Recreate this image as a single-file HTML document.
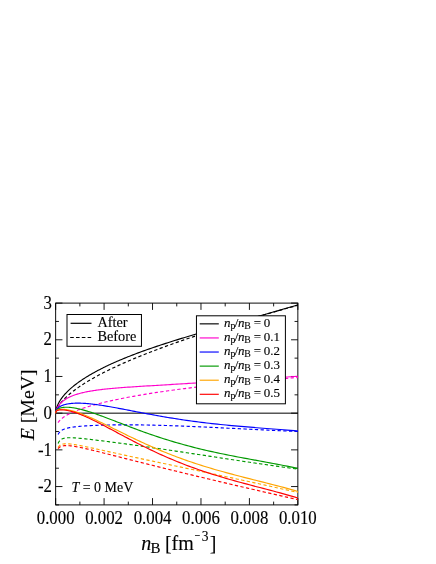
<!DOCTYPE html>
<html><head><meta charset="utf-8"><title>E vs nB</title>
<style>html,body{margin:0;padding:0;background:#fff;}svg{display:block;will-change:transform;}text{font-family:"Liberation Serif",serif;fill:#000;stroke:#000;stroke-width:0.12px;}</style></head><body>
<svg width="436" height="564" viewBox="0 0 436 564">
<rect x="0" y="0" width="436" height="564" fill="#fff"/>
<defs><clipPath id="c"><rect x="55.15" y="302.60" width="243.20" height="202.80"/></clipPath></defs>
<path d="M55.65 504.90v-6.80M55.65 303.10v6.80M79.87 504.90v-3.30M79.87 303.10v3.30M104.09 504.90v-6.80M104.09 303.10v6.80M128.31 504.90v-3.30M128.31 303.10v3.30M152.53 504.90v-6.80M152.53 303.10v6.80M176.75 504.90v-3.30M176.75 303.10v3.30M200.97 504.90v-6.80M200.97 303.10v6.80M225.19 504.90v-3.30M225.19 303.10v3.30M249.41 504.90v-6.80M249.41 303.10v6.80M273.63 504.90v-3.30M273.63 303.10v3.30M297.85 504.90v-6.80M297.85 303.10v6.80M55.65 303.10h6.80M297.85 303.10h-6.80M55.65 321.45h3.30M297.85 321.45h-3.30M55.65 339.79h6.80M297.85 339.79h-6.80M55.65 358.14h3.30M297.85 358.14h-3.30M55.65 376.48h6.80M297.85 376.48h-6.80M55.65 394.83h3.30M297.85 394.83h-3.30M55.65 413.17h6.80M297.85 413.17h-6.80M55.65 431.52h3.30M297.85 431.52h-3.30M55.65 449.86h6.80M297.85 449.86h-6.80M55.65 468.21h3.30M297.85 468.21h-3.30M55.65 486.55h6.80M297.85 486.55h-6.80M55.65 504.90h3.30M297.85 504.90h-3.30" stroke="#000" stroke-width="0.9" fill="none"/>
<rect x="55.65" y="303.10" width="242.20" height="201.80" fill="none" stroke="#000" stroke-width="0.95"/>
<line x1="55.65" y1="413.17" x2="297.85" y2="413.17" stroke="#000" stroke-width="1"/>
<g clip-path="url(#c)" fill="none" stroke-width="1.15" stroke-linejoin="round">
<path d="M55.65 413.17 L55.65 413.17 L55.65 413.15 L55.65 413.11 L55.65 413.07 L55.65 413.01 L55.66 412.94 L55.66 412.85 L55.67 412.76 L55.67 412.65 L55.68 412.54 L55.69 412.41 L55.70 412.27 L55.72 412.13 L55.73 411.97 L55.75 411.81 L55.78 411.63 L55.80 411.45 L55.83 411.25 L55.86 411.05 L55.90 410.84 L55.93 410.63 L55.98 410.40 L56.02 410.17 L56.07 409.93 L56.13 409.68 L56.19 409.42 L56.25 409.16 L56.32 408.89 L56.40 408.62 L56.48 408.33 L56.57 408.05 L56.66 407.75 L56.75 407.45 L56.86 407.14 L56.97 406.83 L57.08 406.51 L57.21 406.19 L57.34 405.86 L57.47 405.52 L57.62 405.18 L57.77 404.83 L57.93 404.48 L58.09 404.13 L58.27 403.76 L58.45 403.40 L58.64 403.03 L58.84 402.65 L59.05 402.27 L59.27 401.88 L59.49 401.49 L59.73 401.10 L59.97 400.70 L60.23 400.30 L60.49 399.89 L60.76 399.47 L61.05 399.06 L61.34 398.64 L61.65 398.21 L61.96 397.78 L62.29 397.35 L62.63 396.91 L62.97 396.47 L63.33 396.02 L63.71 395.57 L64.09 395.12 L64.49 394.66 L64.89 394.20 L65.31 393.74 L65.75 393.27 L66.19 392.80 L66.65 392.32 L67.12 391.84 L67.61 391.36 L68.10 390.87 L68.62 390.38 L69.14 389.89 L69.68 389.39 L70.23 388.89 L70.80 388.38 L71.39 387.87 L71.98 387.36 L72.60 386.85 L73.22 386.33 L73.87 385.81 L74.52 385.28 L75.20 384.75 L75.89 384.22 L76.59 383.69 L77.32 383.15 L78.05 382.61 L78.81 382.07 L79.58 381.52 L80.37 380.97 L81.18 380.42 L82.00 379.86 L82.84 379.30 L83.70 378.74 L84.58 378.18 L85.47 377.61 L86.38 377.04 L87.31 376.47 L88.26 375.89 L89.23 375.31 L90.22 374.73 L91.23 374.15 L92.25 373.56 L93.30 372.97 L94.37 372.38 L95.45 371.79 L96.56 371.19 L97.68 370.59 L98.83 369.99 L100.00 369.39 L101.18 368.78 L102.39 368.17 L103.62 367.56 L104.87 366.95 L106.15 366.33 L107.44 365.71 L108.76 365.09 L110.10 364.47 L111.46 363.85 L112.84 363.22 L114.25 362.59 L115.68 361.96 L117.13 361.33 L118.60 360.69 L120.10 360.05 L121.63 359.41 L123.17 358.77 L124.74 358.13 L126.34 357.48 L127.96 356.83 L129.60 356.18 L131.27 355.53 L132.96 354.88 L134.68 354.22 L136.42 353.56 L138.19 352.90 L139.98 352.24 L141.80 351.57 L143.65 350.90 L145.52 350.23 L147.42 349.56 L149.35 348.88 L151.30 348.20 L153.28 347.52 L155.28 346.84 L157.32 346.16 L159.38 345.47 L161.46 344.78 L163.58 344.08 L165.73 343.39 L167.90 342.69 L170.10 341.98 L172.33 341.28 L174.59 340.57 L176.87 339.85 L179.19 339.13 L181.54 338.41 L183.91 337.69 L186.32 336.96 L188.75 336.23 L191.21 335.49 L193.71 334.75 L196.24 334.00 L198.79 333.25 L201.38 332.49 L204.00 331.73 L206.64 330.96 L209.33 330.19 L212.04 329.41 L214.78 328.62 L217.56 327.83 L220.36 327.03 L223.20 326.22 L226.08 325.41 L228.98 324.58 L231.92 323.75 L234.89 322.92 L237.89 322.07 L240.93 321.21 L244.00 320.35 L247.11 319.47 L250.24 318.59 L253.42 317.69 L256.62 316.78 L259.87 315.86 L263.14 314.93 L266.45 313.99 L269.80 313.03 L273.18 312.06 L276.60 311.08 L280.05 310.08 L283.54 309.07 L287.06 308.04 L290.62 306.99 L294.22 305.93 L297.85 304.85" stroke="#000000"/>
<path d="M55.65 413.17 L55.65 413.17 L55.65 413.16 L55.65 413.15 L55.65 413.12 L55.65 413.09 L55.66 413.05 L55.66 413.01 L55.67 412.96 L55.67 412.89 L55.68 412.83 L55.69 412.75 L55.70 412.67 L55.72 412.58 L55.73 412.48 L55.75 412.38 L55.78 412.27 L55.80 412.15 L55.83 412.02 L55.86 411.89 L55.90 411.75 L55.93 411.61 L55.98 411.46 L56.02 411.30 L56.07 411.13 L56.13 410.96 L56.19 410.78 L56.25 410.60 L56.32 410.41 L56.40 410.21 L56.48 410.01 L56.57 409.80 L56.66 409.58 L56.75 409.36 L56.86 409.13 L56.97 408.90 L57.08 408.66 L57.21 408.41 L57.34 408.16 L57.47 407.90 L57.62 407.63 L57.77 407.36 L57.93 407.09 L58.09 406.80 L58.27 406.52 L58.45 406.22 L58.64 405.92 L58.84 405.62 L59.05 405.31 L59.27 404.99 L59.49 404.67 L59.73 404.34 L59.97 404.01 L60.23 403.67 L60.49 403.33 L60.76 402.98 L61.05 402.63 L61.34 402.27 L61.65 401.90 L61.96 401.53 L62.29 401.16 L62.63 400.78 L62.97 400.39 L63.33 400.00 L63.71 399.61 L64.09 399.21 L64.49 398.80 L64.89 398.39 L65.31 397.97 L65.75 397.55 L66.19 397.13 L66.65 396.70 L67.12 396.26 L67.61 395.82 L68.10 395.38 L68.62 394.93 L69.14 394.47 L69.68 394.01 L70.23 393.55 L70.80 393.08 L71.39 392.61 L71.98 392.13 L72.60 391.65 L73.22 391.16 L73.87 390.67 L74.52 390.17 L75.20 389.67 L75.89 389.17 L76.59 388.66 L77.32 388.14 L78.05 387.62 L78.81 387.10 L79.58 386.57 L80.37 386.04 L81.18 385.50 L82.00 384.96 L82.84 384.42 L83.70 383.87 L84.58 383.31 L85.47 382.75 L86.38 382.19 L87.31 381.62 L88.26 381.05 L89.23 380.48 L90.22 379.90 L91.23 379.31 L92.25 378.72 L93.30 378.13 L94.37 377.53 L95.45 376.93 L96.56 376.33 L97.68 375.72 L98.83 375.10 L100.00 374.48 L101.18 373.86 L102.39 373.23 L103.62 372.60 L104.87 371.97 L106.15 371.33 L107.44 370.69 L108.76 370.04 L110.10 369.39 L111.46 368.73 L112.84 368.07 L114.25 367.41 L115.68 366.74 L117.13 366.07 L118.60 365.39 L120.10 364.71 L121.63 364.02 L123.17 363.34 L124.74 362.64 L126.34 361.95 L127.96 361.24 L129.60 360.54 L131.27 359.83 L132.96 359.12 L134.68 358.40 L136.42 357.68 L138.19 356.95 L139.98 356.22 L141.80 355.48 L143.65 354.74 L145.52 354.00 L147.42 353.25 L149.35 352.50 L151.30 351.75 L153.28 350.99 L155.28 350.22 L157.32 349.46 L159.38 348.68 L161.46 347.91 L163.58 347.12 L165.73 346.34 L167.90 345.55 L170.10 344.76 L172.33 343.96 L174.59 343.16 L176.87 342.35 L179.19 341.54 L181.54 340.72 L183.91 339.90 L186.32 339.08 L188.75 338.25 L191.21 337.42 L193.71 336.58 L196.24 335.74 L198.79 334.89 L201.38 334.04 L204.00 333.18 L206.64 332.32 L209.33 331.46 L212.04 330.59 L214.78 329.71 L217.56 328.84 L220.36 327.95 L223.20 327.07 L226.08 326.17 L228.98 325.28 L231.92 324.38 L234.89 323.47 L237.89 322.56 L240.93 321.64 L244.00 320.72 L247.11 319.80 L250.24 318.87 L253.42 317.93 L256.62 316.99 L259.87 316.04 L263.14 315.09 L266.45 314.14 L269.80 313.18 L273.18 312.22 L276.60 311.24 L280.05 310.27 L283.54 309.29 L287.06 308.30 L290.62 307.31 L294.22 306.32 L297.85 305.32" stroke="#000000" stroke-dasharray="3.3 2.4"/>
<path d="M55.65 413.17 L55.65 413.17 L55.65 413.16 L55.65 413.13 L55.65 413.11 L55.65 413.07 L55.66 413.02 L55.66 412.97 L55.67 412.91 L55.67 412.83 L55.68 412.76 L55.69 412.67 L55.70 412.57 L55.72 412.47 L55.73 412.36 L55.75 412.24 L55.78 412.12 L55.80 411.99 L55.83 411.85 L55.86 411.70 L55.90 411.55 L55.93 411.39 L55.98 411.22 L56.02 411.04 L56.07 410.86 L56.13 410.68 L56.19 410.49 L56.25 410.29 L56.32 410.08 L56.40 409.87 L56.48 409.66 L56.57 409.44 L56.66 409.22 L56.75 408.99 L56.86 408.75 L56.97 408.51 L57.08 408.27 L57.21 408.02 L57.34 407.77 L57.47 407.52 L57.62 407.26 L57.77 407.00 L57.93 406.74 L58.09 406.47 L58.27 406.20 L58.45 405.93 L58.64 405.66 L58.84 405.38 L59.05 405.11 L59.27 404.83 L59.49 404.55 L59.73 404.26 L59.97 403.98 L60.23 403.70 L60.49 403.41 L60.76 403.13 L61.05 402.84 L61.34 402.55 L61.65 402.27 L61.96 401.98 L62.29 401.70 L62.63 401.41 L62.97 401.12 L63.33 400.84 L63.71 400.56 L64.09 400.27 L64.49 399.99 L64.89 399.71 L65.31 399.44 L65.75 399.16 L66.19 398.88 L66.65 398.61 L67.12 398.34 L67.61 398.07 L68.10 397.80 L68.62 397.54 L69.14 397.28 L69.68 397.02 L70.23 396.76 L70.80 396.50 L71.39 396.25 L71.98 396.00 L72.60 395.76 L73.22 395.51 L73.87 395.27 L74.52 395.03 L75.20 394.80 L75.89 394.57 L76.59 394.34 L77.32 394.12 L78.05 393.90 L78.81 393.68 L79.58 393.46 L80.37 393.25 L81.18 393.04 L82.00 392.84 L82.84 392.64 L83.70 392.44 L84.58 392.25 L85.47 392.05 L86.38 391.87 L87.31 391.68 L88.26 391.50 L89.23 391.32 L90.22 391.15 L91.23 390.98 L92.25 390.81 L93.30 390.64 L94.37 390.48 L95.45 390.32 L96.56 390.17 L97.68 390.01 L98.83 389.86 L100.00 389.71 L101.18 389.57 L102.39 389.43 L103.62 389.29 L104.87 389.15 L106.15 389.01 L107.44 388.88 L108.76 388.75 L110.10 388.62 L111.46 388.49 L112.84 388.37 L114.25 388.24 L115.68 388.12 L117.13 388.00 L118.60 387.88 L120.10 387.76 L121.63 387.64 L123.17 387.53 L124.74 387.41 L126.34 387.30 L127.96 387.18 L129.60 387.07 L131.27 386.96 L132.96 386.85 L134.68 386.73 L136.42 386.62 L138.19 386.51 L139.98 386.39 L141.80 386.28 L143.65 386.17 L145.52 386.05 L147.42 385.94 L149.35 385.82 L151.30 385.70 L153.28 385.58 L155.28 385.46 L157.32 385.34 L159.38 385.22 L161.46 385.09 L163.58 384.97 L165.73 384.84 L167.90 384.71 L170.10 384.58 L172.33 384.44 L174.59 384.30 L176.87 384.17 L179.19 384.02 L181.54 383.88 L183.91 383.73 L186.32 383.58 L188.75 383.43 L191.21 383.28 L193.71 383.12 L196.24 382.96 L198.79 382.79 L201.38 382.63 L204.00 382.46 L206.64 382.29 L209.33 382.11 L212.04 381.93 L214.78 381.75 L217.56 381.57 L220.36 381.38 L223.20 381.19 L226.08 381.00 L228.98 380.80 L231.92 380.60 L234.89 380.40 L237.89 380.20 L240.93 379.99 L244.00 379.79 L247.11 379.58 L250.24 379.36 L253.42 379.15 L256.62 378.94 L259.87 378.72 L263.14 378.50 L266.45 378.28 L269.80 378.06 L273.18 377.84 L276.60 377.62 L280.05 377.40 L283.54 377.18 L287.06 376.96 L290.62 376.75 L294.22 376.53 L297.85 376.32" stroke="#ff00cc"/>
<path d="M58.07 422.60 L58.21 422.40 L58.35 422.20 L58.49 422.00 L58.64 421.79 L58.80 421.59 L58.96 421.39 L59.13 421.19 L59.30 420.99 L59.48 420.78 L59.66 420.58 L59.85 420.38 L60.04 420.18 L60.24 419.97 L60.45 419.77 L60.66 419.56 L60.88 419.36 L61.11 419.16 L61.34 418.95 L61.58 418.75 L61.82 418.54 L62.07 418.34 L62.33 418.13 L62.60 417.92 L62.87 417.72 L63.15 417.51 L63.43 417.30 L63.73 417.10 L64.03 416.89 L64.34 416.68 L64.65 416.47 L64.97 416.26 L65.30 416.05 L65.64 415.84 L65.99 415.63 L66.34 415.42 L66.70 415.21 L67.07 415.00 L67.45 414.79 L67.84 414.58 L68.23 414.37 L68.64 414.15 L69.05 413.94 L69.47 413.73 L69.90 413.51 L70.33 413.30 L70.78 413.08 L71.24 412.87 L71.70 412.65 L72.18 412.44 L72.66 412.22 L73.15 412.00 L73.65 411.79 L74.16 411.57 L74.68 411.35 L75.21 411.13 L75.75 410.91 L76.30 410.70 L76.86 410.48 L77.43 410.26 L78.02 410.03 L78.61 409.81 L79.21 409.59 L79.82 409.37 L80.44 409.15 L81.07 408.92 L81.71 408.70 L82.37 408.48 L83.03 408.25 L83.71 408.03 L84.39 407.80 L85.09 407.58 L85.80 407.35 L86.52 407.13 L87.25 406.90 L87.99 406.67 L88.75 406.45 L89.51 406.22 L90.29 405.99 L91.08 405.76 L91.88 405.53 L92.69 405.30 L93.52 405.07 L94.36 404.84 L95.21 404.61 L96.07 404.38 L96.94 404.15 L97.83 403.92 L98.73 403.68 L99.64 403.45 L100.57 403.22 L101.51 402.98 L102.46 402.75 L103.42 402.52 L104.40 402.28 L105.39 402.05 L106.39 401.81 L107.41 401.58 L108.44 401.34 L109.48 401.10 L110.54 400.87 L111.61 400.63 L112.70 400.39 L113.80 400.15 L114.91 399.92 L116.04 399.68 L117.18 399.44 L118.34 399.20 L119.51 398.96 L120.69 398.72 L121.89 398.48 L123.11 398.24 L124.34 398.00 L125.58 397.76 L126.84 397.52 L128.11 397.28 L129.40 397.04 L130.71 396.80 L132.03 396.56 L133.36 396.32 L134.71 396.08 L136.08 395.83 L137.46 395.59 L138.86 395.35 L140.27 395.11 L141.70 394.87 L143.14 394.62 L144.60 394.38 L146.08 394.14 L147.58 393.90 L149.09 393.65 L150.61 393.41 L152.15 393.17 L153.71 392.92 L155.29 392.68 L156.88 392.44 L158.49 392.19 L160.12 391.95 L161.76 391.71 L163.42 391.47 L165.10 391.22 L166.80 390.98 L168.51 390.74 L170.24 390.49 L171.99 390.25 L173.76 390.01 L175.54 389.77 L177.34 389.52 L179.16 389.28 L181.00 389.04 L182.85 388.80 L184.73 388.56 L186.62 388.31 L188.53 388.07 L190.46 387.83 L192.41 387.59 L194.37 387.35 L196.36 387.11 L198.36 386.87 L200.39 386.63 L202.43 386.39 L204.49 386.15 L206.57 385.91 L208.67 385.67 L210.79 385.44 L212.93 385.20 L215.08 384.96 L217.26 384.72 L219.46 384.49 L221.68 384.25 L223.91 384.02 L226.17 383.78 L228.45 383.55 L230.74 383.31 L233.06 383.08 L235.40 382.85 L237.76 382.61 L240.14 382.38 L242.54 382.15 L244.96 381.92 L247.40 381.69 L249.86 381.46 L252.34 381.23 L254.85 381.01 L257.37 380.78 L259.92 380.55 L262.49 380.33 L265.08 380.10 L267.69 379.88 L270.32 379.65 L272.97 379.43 L275.65 379.21 L278.35 378.99 L281.07 378.77 L283.81 378.55 L286.57 378.33 L289.36 378.12 L292.17 377.90 L295.00 377.69 L297.85 377.47" stroke="#ff00cc" stroke-dasharray="3.3 2.4"/>
<path d="M55.65 413.17 L55.65 413.17 L55.65 413.15 L55.65 413.12 L55.65 413.07 L55.65 413.02 L55.66 412.96 L55.66 412.89 L55.67 412.81 L55.67 412.72 L55.68 412.63 L55.69 412.53 L55.70 412.42 L55.72 412.31 L55.73 412.19 L55.75 412.07 L55.78 411.95 L55.80 411.82 L55.83 411.69 L55.86 411.55 L55.90 411.41 L55.93 411.27 L55.98 411.13 L56.02 410.98 L56.07 410.84 L56.13 410.69 L56.19 410.54 L56.25 410.39 L56.32 410.23 L56.40 410.08 L56.48 409.92 L56.57 409.77 L56.66 409.61 L56.75 409.46 L56.86 409.30 L56.97 409.14 L57.08 408.99 L57.21 408.83 L57.34 408.67 L57.47 408.51 L57.62 408.36 L57.77 408.20 L57.93 408.05 L58.09 407.89 L58.27 407.74 L58.45 407.58 L58.64 407.43 L58.84 407.28 L59.05 407.13 L59.27 406.98 L59.49 406.83 L59.73 406.68 L59.97 406.53 L60.23 406.39 L60.49 406.24 L60.76 406.10 L61.05 405.96 L61.34 405.82 L61.65 405.69 L61.96 405.55 L62.29 405.42 L62.63 405.29 L62.97 405.16 L63.33 405.04 L63.71 404.92 L64.09 404.80 L64.49 404.68 L64.89 404.57 L65.31 404.46 L65.75 404.35 L66.19 404.25 L66.65 404.15 L67.12 404.05 L67.61 403.96 L68.10 403.87 L68.62 403.79 L69.14 403.71 L69.68 403.63 L70.23 403.56 L70.80 403.50 L71.39 403.44 L71.98 403.38 L72.60 403.33 L73.22 403.29 L73.87 403.25 L74.52 403.22 L75.20 403.19 L75.89 403.17 L76.59 403.16 L77.32 403.15 L78.05 403.15 L78.81 403.15 L79.58 403.16 L80.37 403.18 L81.18 403.20 L82.00 403.24 L82.84 403.28 L83.70 403.32 L84.58 403.38 L85.47 403.44 L86.38 403.51 L87.31 403.58 L88.26 403.67 L89.23 403.76 L90.22 403.86 L91.23 403.97 L92.25 404.08 L93.30 404.21 L94.37 404.34 L95.45 404.48 L96.56 404.63 L97.68 404.78 L98.83 404.95 L100.00 405.12 L101.18 405.30 L102.39 405.48 L103.62 405.68 L104.87 405.88 L106.15 406.09 L107.44 406.31 L108.76 406.54 L110.10 406.77 L111.46 407.01 L112.84 407.26 L114.25 407.52 L115.68 407.78 L117.13 408.05 L118.60 408.33 L120.10 408.61 L121.63 408.90 L123.17 409.19 L124.74 409.49 L126.34 409.80 L127.96 410.11 L129.60 410.43 L131.27 410.75 L132.96 411.08 L134.68 411.41 L136.42 411.75 L138.19 412.09 L139.98 412.43 L141.80 412.78 L143.65 413.13 L145.52 413.48 L147.42 413.84 L149.35 414.19 L151.30 414.55 L153.28 414.92 L155.28 415.28 L157.32 415.64 L159.38 416.01 L161.46 416.37 L163.58 416.73 L165.73 417.10 L167.90 417.46 L170.10 417.82 L172.33 418.19 L174.59 418.54 L176.87 418.90 L179.19 419.26 L181.54 419.61 L183.91 419.96 L186.32 420.31 L188.75 420.65 L191.21 421.00 L193.71 421.33 L196.24 421.67 L198.79 422.00 L201.38 422.32 L204.00 422.64 L206.64 422.96 L209.33 423.27 L212.04 423.58 L214.78 423.88 L217.56 424.18 L220.36 424.47 L223.20 424.76 L226.08 425.05 L228.98 425.33 L231.92 425.60 L234.89 425.87 L237.89 426.14 L240.93 426.41 L244.00 426.67 L247.11 426.93 L250.24 427.19 L253.42 427.44 L256.62 427.70 L259.87 427.95 L263.14 428.20 L266.45 428.46 L269.80 428.72 L273.18 428.98 L276.60 429.24 L280.05 429.51 L283.54 429.78 L287.06 430.07 L290.62 430.36 L294.22 430.66 L297.85 430.97" stroke="#0000ff"/>
<path d="M58.07 434.57 L58.21 434.29 L58.35 434.01 L58.49 433.74 L58.64 433.49 L58.80 433.23 L58.96 432.99 L59.13 432.76 L59.30 432.53 L59.48 432.31 L59.66 432.09 L59.85 431.89 L60.04 431.68 L60.24 431.49 L60.45 431.30 L60.66 431.12 L60.88 430.94 L61.11 430.77 L61.34 430.60 L61.58 430.44 L61.82 430.28 L62.07 430.13 L62.33 429.98 L62.60 429.84 L62.87 429.70 L63.15 429.56 L63.43 429.43 L63.73 429.30 L64.03 429.18 L64.34 429.06 L64.65 428.94 L64.97 428.83 L65.30 428.72 L65.64 428.61 L65.99 428.50 L66.34 428.40 L66.70 428.30 L67.07 428.21 L67.45 428.11 L67.84 428.02 L68.23 427.93 L68.64 427.84 L69.05 427.76 L69.47 427.67 L69.90 427.59 L70.33 427.51 L70.78 427.44 L71.24 427.36 L71.70 427.29 L72.18 427.21 L72.66 427.14 L73.15 427.07 L73.65 427.01 L74.16 426.94 L74.68 426.88 L75.21 426.81 L75.75 426.75 L76.30 426.69 L76.86 426.63 L77.43 426.57 L78.02 426.51 L78.61 426.45 L79.21 426.40 L79.82 426.34 L80.44 426.29 L81.07 426.24 L81.71 426.18 L82.37 426.13 L83.03 426.08 L83.71 426.03 L84.39 425.98 L85.09 425.94 L85.80 425.89 L86.52 425.84 L87.25 425.80 L87.99 425.75 L88.75 425.71 L89.51 425.67 L90.29 425.63 L91.08 425.59 L91.88 425.55 L92.69 425.51 L93.52 425.47 L94.36 425.43 L95.21 425.40 L96.07 425.36 L96.94 425.33 L97.83 425.29 L98.73 425.26 L99.64 425.23 L100.57 425.20 L101.51 425.17 L102.46 425.14 L103.42 425.11 L104.40 425.09 L105.39 425.06 L106.39 425.04 L107.41 425.01 L108.44 424.99 L109.48 424.97 L110.54 424.95 L111.61 424.93 L112.70 424.92 L113.80 424.90 L114.91 424.89 L116.04 424.87 L117.18 424.86 L118.34 424.85 L119.51 424.84 L120.69 424.84 L121.89 424.83 L123.11 424.83 L124.34 424.82 L125.58 424.82 L126.84 424.82 L128.11 424.83 L129.40 424.83 L130.71 424.84 L132.03 424.84 L133.36 424.85 L134.71 424.86 L136.08 424.88 L137.46 424.89 L138.86 424.91 L140.27 424.92 L141.70 424.94 L143.14 424.97 L144.60 424.99 L146.08 425.02 L147.58 425.04 L149.09 425.07 L150.61 425.11 L152.15 425.14 L153.71 425.18 L155.29 425.21 L156.88 425.25 L158.49 425.30 L160.12 425.34 L161.76 425.39 L163.42 425.44 L165.10 425.49 L166.80 425.54 L168.51 425.60 L170.24 425.65 L171.99 425.71 L173.76 425.77 L175.54 425.84 L177.34 425.90 L179.16 425.97 L181.00 426.04 L182.85 426.11 L184.73 426.19 L186.62 426.26 L188.53 426.34 L190.46 426.42 L192.41 426.51 L194.37 426.59 L196.36 426.68 L198.36 426.77 L200.39 426.86 L202.43 426.95 L204.49 427.04 L206.57 427.14 L208.67 427.24 L210.79 427.34 L212.93 427.44 L215.08 427.54 L217.26 427.65 L219.46 427.76 L221.68 427.86 L223.91 427.97 L226.17 428.08 L228.45 428.20 L230.74 428.31 L233.06 428.43 L235.40 428.54 L237.76 428.66 L240.14 428.78 L242.54 428.90 L244.96 429.02 L247.40 429.14 L249.86 429.26 L252.34 429.38 L254.85 429.50 L257.37 429.62 L259.92 429.75 L262.49 429.87 L265.08 429.99 L267.69 430.12 L270.32 430.24 L272.97 430.36 L275.65 430.48 L278.35 430.60 L281.07 430.72 L283.81 430.84 L286.57 430.96 L289.36 431.08 L292.17 431.20 L295.00 431.31 L297.85 431.42" stroke="#0000ff" stroke-dasharray="3.3 2.4"/>
<path d="M55.65 413.17 L55.65 413.17 L55.65 413.15 L55.65 413.12 L55.65 413.08 L55.65 413.03 L55.66 412.97 L55.66 412.91 L55.67 412.84 L55.67 412.76 L55.68 412.68 L55.69 412.59 L55.70 412.49 L55.72 412.40 L55.73 412.29 L55.75 412.19 L55.78 412.08 L55.80 411.97 L55.83 411.86 L55.86 411.74 L55.90 411.63 L55.93 411.51 L55.98 411.39 L56.02 411.27 L56.07 411.15 L56.13 411.03 L56.19 410.91 L56.25 410.79 L56.32 410.67 L56.40 410.55 L56.48 410.43 L56.57 410.31 L56.66 410.19 L56.75 410.07 L56.86 409.95 L56.97 409.84 L57.08 409.72 L57.21 409.60 L57.34 409.49 L57.47 409.38 L57.62 409.27 L57.77 409.16 L57.93 409.05 L58.09 408.95 L58.27 408.84 L58.45 408.74 L58.64 408.64 L58.84 408.54 L59.05 408.45 L59.27 408.35 L59.49 408.26 L59.73 408.17 L59.97 408.09 L60.23 408.01 L60.49 407.93 L60.76 407.85 L61.05 407.78 L61.34 407.71 L61.65 407.65 L61.96 407.59 L62.29 407.53 L62.63 407.48 L62.97 407.43 L63.33 407.38 L63.71 407.34 L64.09 407.31 L64.49 407.28 L64.89 407.26 L65.31 407.24 L65.75 407.23 L66.19 407.22 L66.65 407.22 L67.12 407.23 L67.61 407.24 L68.10 407.26 L68.62 407.29 L69.14 407.32 L69.68 407.37 L70.23 407.42 L70.80 407.47 L71.39 407.54 L71.98 407.61 L72.60 407.70 L73.22 407.79 L73.87 407.89 L74.52 408.00 L75.20 408.12 L75.89 408.25 L76.59 408.39 L77.32 408.54 L78.05 408.69 L78.81 408.86 L79.58 409.04 L80.37 409.23 L81.18 409.43 L82.00 409.65 L82.84 409.87 L83.70 410.10 L84.58 410.35 L85.47 410.61 L86.38 410.87 L87.31 411.15 L88.26 411.45 L89.23 411.75 L90.22 412.07 L91.23 412.39 L92.25 412.73 L93.30 413.08 L94.37 413.45 L95.45 413.82 L96.56 414.21 L97.68 414.60 L98.83 415.01 L100.00 415.44 L101.18 415.87 L102.39 416.31 L103.62 416.77 L104.87 417.24 L106.15 417.71 L107.44 418.20 L108.76 418.70 L110.10 419.22 L111.46 419.74 L112.84 420.27 L114.25 420.81 L115.68 421.36 L117.13 421.92 L118.60 422.49 L120.10 423.07 L121.63 423.66 L123.17 424.25 L124.74 424.85 L126.34 425.47 L127.96 426.08 L129.60 426.71 L131.27 427.34 L132.96 427.98 L134.68 428.62 L136.42 429.27 L138.19 429.93 L139.98 430.59 L141.80 431.25 L143.65 431.92 L145.52 432.59 L147.42 433.26 L149.35 433.93 L151.30 434.61 L153.28 435.29 L155.28 435.97 L157.32 436.65 L159.38 437.33 L161.46 438.01 L163.58 438.69 L165.73 439.37 L167.90 440.05 L170.10 440.73 L172.33 441.40 L174.59 442.08 L176.87 442.74 L179.19 443.41 L181.54 444.07 L183.91 444.73 L186.32 445.39 L188.75 446.04 L191.21 446.68 L193.71 447.32 L196.24 447.96 L198.79 448.59 L201.38 449.22 L204.00 449.84 L206.64 450.45 L209.33 451.07 L212.04 451.67 L214.78 452.27 L217.56 452.87 L220.36 453.46 L223.20 454.05 L226.08 454.64 L228.98 455.22 L231.92 455.80 L234.89 456.38 L237.89 456.95 L240.93 457.53 L244.00 458.10 L247.11 458.68 L250.24 459.26 L253.42 459.84 L256.62 460.43 L259.87 461.03 L263.14 461.63 L266.45 462.24 L269.80 462.86 L273.18 463.49 L276.60 464.14 L280.05 464.80 L283.54 465.48 L287.06 466.18 L290.62 466.91 L294.22 467.66 L297.85 468.44" stroke="#009900"/>
<path d="M58.07 443.53 L58.21 443.20 L58.35 442.89 L58.49 442.59 L58.64 442.31 L58.80 442.03 L58.96 441.77 L59.13 441.51 L59.30 441.27 L59.48 441.04 L59.66 440.81 L59.85 440.60 L60.04 440.40 L60.24 440.20 L60.45 440.02 L60.66 439.85 L60.88 439.68 L61.11 439.52 L61.34 439.37 L61.58 439.23 L61.82 439.09 L62.07 438.97 L62.33 438.85 L62.60 438.73 L62.87 438.63 L63.15 438.53 L63.43 438.44 L63.73 438.35 L64.03 438.27 L64.34 438.20 L64.65 438.13 L64.97 438.07 L65.30 438.01 L65.64 437.96 L65.99 437.92 L66.34 437.88 L66.70 437.84 L67.07 437.81 L67.45 437.78 L67.84 437.76 L68.23 437.74 L68.64 437.73 L69.05 437.72 L69.47 437.71 L69.90 437.71 L70.33 437.72 L70.78 437.72 L71.24 437.73 L71.70 437.74 L72.18 437.76 L72.66 437.78 L73.15 437.80 L73.65 437.83 L74.16 437.86 L74.68 437.89 L75.21 437.93 L75.75 437.97 L76.30 438.01 L76.86 438.05 L77.43 438.10 L78.02 438.15 L78.61 438.20 L79.21 438.25 L79.82 438.31 L80.44 438.37 L81.07 438.43 L81.71 438.50 L82.37 438.56 L83.03 438.63 L83.71 438.70 L84.39 438.78 L85.09 438.85 L85.80 438.93 L86.52 439.01 L87.25 439.09 L87.99 439.17 L88.75 439.26 L89.51 439.35 L90.29 439.44 L91.08 439.53 L91.88 439.62 L92.69 439.72 L93.52 439.82 L94.36 439.92 L95.21 440.02 L96.07 440.12 L96.94 440.23 L97.83 440.34 L98.73 440.45 L99.64 440.56 L100.57 440.68 L101.51 440.79 L102.46 440.91 L103.42 441.03 L104.40 441.16 L105.39 441.28 L106.39 441.41 L107.41 441.54 L108.44 441.67 L109.48 441.81 L110.54 441.94 L111.61 442.08 L112.70 442.22 L113.80 442.36 L114.91 442.51 L116.04 442.66 L117.18 442.81 L118.34 442.96 L119.51 443.11 L120.69 443.27 L121.89 443.43 L123.11 443.59 L124.34 443.76 L125.58 443.93 L126.84 444.10 L128.11 444.27 L129.40 444.44 L130.71 444.62 L132.03 444.80 L133.36 444.99 L134.71 445.17 L136.08 445.36 L137.46 445.55 L138.86 445.75 L140.27 445.95 L141.70 446.15 L143.14 446.35 L144.60 446.56 L146.08 446.77 L147.58 446.98 L149.09 447.19 L150.61 447.41 L152.15 447.63 L153.71 447.86 L155.29 448.09 L156.88 448.32 L158.49 448.55 L160.12 448.79 L161.76 449.03 L163.42 449.27 L165.10 449.52 L166.80 449.77 L168.51 450.02 L170.24 450.28 L171.99 450.54 L173.76 450.80 L175.54 451.06 L177.34 451.33 L179.16 451.61 L181.00 451.88 L182.85 452.16 L184.73 452.44 L186.62 452.73 L188.53 453.02 L190.46 453.31 L192.41 453.60 L194.37 453.90 L196.36 454.20 L198.36 454.51 L200.39 454.81 L202.43 455.13 L204.49 455.44 L206.57 455.76 L208.67 456.08 L210.79 456.40 L212.93 456.72 L215.08 457.05 L217.26 457.39 L219.46 457.72 L221.68 458.06 L223.91 458.40 L226.17 458.74 L228.45 459.09 L230.74 459.43 L233.06 459.78 L235.40 460.14 L237.76 460.49 L240.14 460.85 L242.54 461.21 L244.96 461.57 L247.40 461.94 L249.86 462.30 L252.34 462.67 L254.85 463.04 L257.37 463.41 L259.92 463.79 L262.49 464.16 L265.08 464.54 L267.69 464.92 L270.32 465.30 L272.97 465.68 L275.65 466.06 L278.35 466.44 L281.07 466.82 L283.81 467.21 L286.57 467.59 L289.36 467.97 L292.17 468.36 L295.00 468.74 L297.85 469.13" stroke="#009900" stroke-dasharray="3.3 2.4"/>
<path d="M55.65 413.17 L55.65 413.17 L55.65 413.15 L55.65 413.12 L55.65 413.08 L55.65 413.04 L55.66 412.98 L55.66 412.92 L55.67 412.86 L55.67 412.79 L55.68 412.71 L55.69 412.63 L55.70 412.54 L55.72 412.46 L55.73 412.37 L55.75 412.27 L55.78 412.18 L55.80 412.08 L55.83 411.99 L55.86 411.89 L55.90 411.79 L55.93 411.69 L55.98 411.60 L56.02 411.50 L56.07 411.40 L56.13 411.30 L56.19 411.21 L56.25 411.11 L56.32 411.02 L56.40 410.93 L56.48 410.84 L56.57 410.75 L56.66 410.66 L56.75 410.57 L56.86 410.49 L56.97 410.41 L57.08 410.33 L57.21 410.25 L57.34 410.17 L57.47 410.10 L57.62 410.03 L57.77 409.96 L57.93 409.89 L58.09 409.83 L58.27 409.76 L58.45 409.71 L58.64 409.65 L58.84 409.60 L59.05 409.55 L59.27 409.50 L59.49 409.46 L59.73 409.42 L59.97 409.38 L60.23 409.35 L60.49 409.32 L60.76 409.30 L61.05 409.28 L61.34 409.27 L61.65 409.26 L61.96 409.25 L62.29 409.25 L62.63 409.25 L62.97 409.26 L63.33 409.28 L63.71 409.30 L64.09 409.33 L64.49 409.36 L64.89 409.40 L65.31 409.45 L65.75 409.50 L66.19 409.56 L66.65 409.63 L67.12 409.70 L67.61 409.78 L68.10 409.87 L68.62 409.97 L69.14 410.08 L69.68 410.20 L70.23 410.32 L70.80 410.46 L71.39 410.60 L71.98 410.75 L72.60 410.92 L73.22 411.09 L73.87 411.27 L74.52 411.47 L75.20 411.67 L75.89 411.89 L76.59 412.12 L77.32 412.36 L78.05 412.61 L78.81 412.87 L79.58 413.15 L80.37 413.43 L81.18 413.73 L82.00 414.05 L82.84 414.37 L83.70 414.71 L84.58 415.06 L85.47 415.43 L86.38 415.80 L87.31 416.19 L88.26 416.60 L89.23 417.02 L90.22 417.45 L91.23 417.90 L92.25 418.35 L93.30 418.83 L94.37 419.31 L95.45 419.81 L96.56 420.33 L97.68 420.86 L98.83 421.40 L100.00 421.95 L101.18 422.52 L102.39 423.10 L103.62 423.70 L104.87 424.31 L106.15 424.93 L107.44 425.56 L108.76 426.21 L110.10 426.87 L111.46 427.54 L112.84 428.23 L114.25 428.92 L115.68 429.63 L117.13 430.35 L118.60 431.08 L120.10 431.82 L121.63 432.57 L123.17 433.33 L124.74 434.09 L126.34 434.87 L127.96 435.66 L129.60 436.46 L131.27 437.26 L132.96 438.07 L134.68 438.89 L136.42 439.72 L138.19 440.55 L139.98 441.39 L141.80 442.23 L143.65 443.08 L145.52 443.93 L147.42 444.79 L149.35 445.65 L151.30 446.51 L153.28 447.37 L155.28 448.24 L157.32 449.11 L159.38 449.98 L161.46 450.85 L163.58 451.72 L165.73 452.59 L167.90 453.47 L170.10 454.33 L172.33 455.20 L174.59 456.07 L176.87 456.93 L179.19 457.79 L181.54 458.65 L183.91 459.50 L186.32 460.35 L188.75 461.20 L191.21 462.04 L193.71 462.88 L196.24 463.72 L198.79 464.54 L201.38 465.37 L204.00 466.19 L206.64 467.01 L209.33 467.82 L212.04 468.62 L214.78 469.43 L217.56 470.23 L220.36 471.02 L223.20 471.81 L226.08 472.60 L228.98 473.39 L231.92 474.18 L234.89 474.96 L237.89 475.75 L240.93 476.53 L244.00 477.32 L247.11 478.11 L250.24 478.90 L253.42 479.70 L256.62 480.51 L259.87 481.33 L263.14 482.15 L266.45 482.99 L269.80 483.84 L273.18 484.71 L276.60 485.59 L280.05 486.50 L283.54 487.43 L287.06 488.38 L290.62 489.36 L294.22 490.38 L297.85 491.43" stroke="#ffa500"/>
<path d="M58.07 447.44 L58.21 447.22 L58.35 447.00 L58.49 446.80 L58.64 446.60 L58.80 446.41 L58.96 446.23 L59.13 446.05 L59.30 445.88 L59.48 445.72 L59.66 445.57 L59.85 445.42 L60.04 445.28 L60.24 445.15 L60.45 445.02 L60.66 444.90 L60.88 444.79 L61.11 444.68 L61.34 444.58 L61.58 444.49 L61.82 444.40 L62.07 444.32 L62.33 444.24 L62.60 444.17 L62.87 444.11 L63.15 444.05 L63.43 444.00 L63.73 443.95 L64.03 443.91 L64.34 443.87 L64.65 443.84 L64.97 443.82 L65.30 443.80 L65.64 443.78 L65.99 443.77 L66.34 443.77 L66.70 443.77 L67.07 443.78 L67.45 443.79 L67.84 443.80 L68.23 443.82 L68.64 443.85 L69.05 443.88 L69.47 443.91 L69.90 443.95 L70.33 444.00 L70.78 444.04 L71.24 444.10 L71.70 444.15 L72.18 444.21 L72.66 444.28 L73.15 444.35 L73.65 444.42 L74.16 444.50 L74.68 444.58 L75.21 444.67 L75.75 444.76 L76.30 444.85 L76.86 444.95 L77.43 445.05 L78.02 445.16 L78.61 445.27 L79.21 445.38 L79.82 445.49 L80.44 445.61 L81.07 445.74 L81.71 445.86 L82.37 446.00 L83.03 446.13 L83.71 446.27 L84.39 446.41 L85.09 446.55 L85.80 446.70 L86.52 446.85 L87.25 447.00 L87.99 447.16 L88.75 447.32 L89.51 447.49 L90.29 447.65 L91.08 447.82 L91.88 448.00 L92.69 448.17 L93.52 448.35 L94.36 448.53 L95.21 448.72 L96.07 448.91 L96.94 449.10 L97.83 449.29 L98.73 449.49 L99.64 449.69 L100.57 449.90 L101.51 450.10 L102.46 450.31 L103.42 450.52 L104.40 450.74 L105.39 450.96 L106.39 451.18 L107.41 451.40 L108.44 451.63 L109.48 451.86 L110.54 452.09 L111.61 452.33 L112.70 452.56 L113.80 452.81 L114.91 453.05 L116.04 453.30 L117.18 453.55 L118.34 453.80 L119.51 454.05 L120.69 454.31 L121.89 454.57 L123.11 454.84 L124.34 455.10 L125.58 455.37 L126.84 455.64 L128.11 455.92 L129.40 456.20 L130.71 456.48 L132.03 456.76 L133.36 457.05 L134.71 457.34 L136.08 457.63 L137.46 457.93 L138.86 458.23 L140.27 458.53 L141.70 458.84 L143.14 459.14 L144.60 459.46 L146.08 459.77 L147.58 460.09 L149.09 460.41 L150.61 460.73 L152.15 461.06 L153.71 461.39 L155.29 461.72 L156.88 462.06 L158.49 462.40 L160.12 462.74 L161.76 463.09 L163.42 463.44 L165.10 463.80 L166.80 464.15 L168.51 464.51 L170.24 464.88 L171.99 465.25 L173.76 465.62 L175.54 465.99 L177.34 466.37 L179.16 466.75 L181.00 467.14 L182.85 467.53 L184.73 467.93 L186.62 468.32 L188.53 468.73 L190.46 469.13 L192.41 469.54 L194.37 469.96 L196.36 470.38 L198.36 470.80 L200.39 471.22 L202.43 471.66 L204.49 472.09 L206.57 472.53 L208.67 472.98 L210.79 473.42 L212.93 473.88 L215.08 474.34 L217.26 474.80 L219.46 475.27 L221.68 475.74 L223.91 476.22 L226.17 476.70 L228.45 477.19 L230.74 477.68 L233.06 478.18 L235.40 478.68 L237.76 479.19 L240.14 479.70 L242.54 480.22 L244.96 480.74 L247.40 481.27 L249.86 481.81 L252.34 482.35 L254.85 482.90 L257.37 483.45 L259.92 484.01 L262.49 484.57 L265.08 485.14 L267.69 485.72 L270.32 486.30 L272.97 486.89 L275.65 487.49 L278.35 488.09 L281.07 488.70 L283.81 489.31 L286.57 489.93 L289.36 490.56 L292.17 491.20 L295.00 491.84 L297.85 492.49" stroke="#ffa500" stroke-dasharray="3.3 2.4"/>
<path d="M55.65 413.17 L55.65 413.17 L55.65 413.15 L55.65 413.12 L55.65 413.09 L55.65 413.04 L55.66 412.99 L55.66 412.93 L55.67 412.87 L55.67 412.80 L55.68 412.73 L55.69 412.66 L55.70 412.58 L55.72 412.50 L55.73 412.41 L55.75 412.33 L55.78 412.24 L55.80 412.16 L55.83 412.07 L55.86 411.98 L55.90 411.89 L55.93 411.81 L55.98 411.72 L56.02 411.63 L56.07 411.55 L56.13 411.47 L56.19 411.38 L56.25 411.30 L56.32 411.22 L56.40 411.14 L56.48 411.06 L56.57 410.99 L56.66 410.91 L56.75 410.84 L56.86 410.77 L56.97 410.70 L57.08 410.64 L57.21 410.57 L57.34 410.51 L57.47 410.45 L57.62 410.39 L57.77 410.34 L57.93 410.29 L58.09 410.24 L58.27 410.19 L58.45 410.14 L58.64 410.10 L58.84 410.06 L59.05 410.03 L59.27 409.99 L59.49 409.96 L59.73 409.94 L59.97 409.91 L60.23 409.89 L60.49 409.88 L60.76 409.86 L61.05 409.86 L61.34 409.85 L61.65 409.85 L61.96 409.86 L62.29 409.87 L62.63 409.88 L62.97 409.90 L63.33 409.93 L63.71 409.96 L64.09 410.00 L64.49 410.04 L64.89 410.09 L65.31 410.15 L65.75 410.21 L66.19 410.28 L66.65 410.36 L67.12 410.44 L67.61 410.54 L68.10 410.64 L68.62 410.75 L69.14 410.86 L69.68 410.99 L70.23 411.13 L70.80 411.27 L71.39 411.43 L71.98 411.59 L72.60 411.77 L73.22 411.96 L73.87 412.15 L74.52 412.36 L75.20 412.58 L75.89 412.81 L76.59 413.06 L77.32 413.31 L78.05 413.58 L78.81 413.86 L79.58 414.16 L80.37 414.46 L81.18 414.78 L82.00 415.12 L82.84 415.46 L83.70 415.82 L84.58 416.20 L85.47 416.59 L86.38 416.99 L87.31 417.41 L88.26 417.84 L89.23 418.29 L90.22 418.75 L91.23 419.23 L92.25 419.72 L93.30 420.23 L94.37 420.75 L95.45 421.29 L96.56 421.84 L97.68 422.40 L98.83 422.98 L100.00 423.58 L101.18 424.19 L102.39 424.82 L103.62 425.46 L104.87 426.11 L106.15 426.78 L107.44 427.46 L108.76 428.16 L110.10 428.87 L111.46 429.60 L112.84 430.33 L114.25 431.08 L115.68 431.85 L117.13 432.62 L118.60 433.41 L120.10 434.21 L121.63 435.02 L123.17 435.84 L124.74 436.68 L126.34 437.52 L127.96 438.37 L129.60 439.23 L131.27 440.11 L132.96 440.99 L134.68 441.87 L136.42 442.77 L138.19 443.67 L139.98 444.58 L141.80 445.50 L143.65 446.42 L145.52 447.34 L147.42 448.27 L149.35 449.21 L151.30 450.14 L153.28 451.08 L155.28 452.03 L157.32 452.97 L159.38 453.92 L161.46 454.86 L163.58 455.81 L165.73 456.75 L167.90 457.70 L170.10 458.64 L172.33 459.59 L174.59 460.52 L176.87 461.46 L179.19 462.40 L181.54 463.32 L183.91 464.25 L186.32 465.17 L188.75 466.09 L191.21 467.00 L193.71 467.91 L196.24 468.81 L198.79 469.70 L201.38 470.59 L204.00 471.48 L206.64 472.36 L209.33 473.23 L212.04 474.10 L214.78 474.96 L217.56 475.81 L220.36 476.66 L223.20 477.51 L226.08 478.35 L228.98 479.19 L231.92 480.03 L234.89 480.86 L237.89 481.69 L240.93 482.52 L244.00 483.35 L247.11 484.18 L250.24 485.02 L253.42 485.86 L256.62 486.70 L259.87 487.55 L263.14 488.41 L266.45 489.28 L269.80 490.16 L273.18 491.06 L276.60 491.98 L280.05 492.91 L283.54 493.87 L287.06 494.85 L290.62 495.86 L294.22 496.90 L297.85 497.98" stroke="#ff0000"/>
<path d="M58.07 448.72 L58.21 448.54 L58.35 448.36 L58.49 448.19 L58.64 448.03 L58.80 447.87 L58.96 447.72 L59.13 447.57 L59.30 447.43 L59.48 447.29 L59.66 447.16 L59.85 447.04 L60.04 446.92 L60.24 446.80 L60.45 446.69 L60.66 446.59 L60.88 446.49 L61.11 446.40 L61.34 446.31 L61.58 446.23 L61.82 446.15 L62.07 446.08 L62.33 446.01 L62.60 445.95 L62.87 445.89 L63.15 445.84 L63.43 445.79 L63.73 445.75 L64.03 445.71 L64.34 445.68 L64.65 445.66 L64.97 445.63 L65.30 445.62 L65.64 445.60 L65.99 445.60 L66.34 445.59 L66.70 445.60 L67.07 445.60 L67.45 445.62 L67.84 445.63 L68.23 445.65 L68.64 445.68 L69.05 445.71 L69.47 445.74 L69.90 445.78 L70.33 445.83 L70.78 445.88 L71.24 445.93 L71.70 445.99 L72.18 446.05 L72.66 446.12 L73.15 446.19 L73.65 446.26 L74.16 446.34 L74.68 446.43 L75.21 446.52 L75.75 446.61 L76.30 446.71 L76.86 446.81 L77.43 446.91 L78.02 447.02 L78.61 447.14 L79.21 447.26 L79.82 447.38 L80.44 447.51 L81.07 447.64 L81.71 447.77 L82.37 447.91 L83.03 448.06 L83.71 448.20 L84.39 448.35 L85.09 448.51 L85.80 448.67 L86.52 448.83 L87.25 449.00 L87.99 449.17 L88.75 449.35 L89.51 449.53 L90.29 449.71 L91.08 449.90 L91.88 450.09 L92.69 450.29 L93.52 450.49 L94.36 450.69 L95.21 450.90 L96.07 451.11 L96.94 451.33 L97.83 451.55 L98.73 451.77 L99.64 452.00 L100.57 452.23 L101.51 452.46 L102.46 452.70 L103.42 452.94 L104.40 453.19 L105.39 453.44 L106.39 453.69 L107.41 453.95 L108.44 454.21 L109.48 454.47 L110.54 454.74 L111.61 455.01 L112.70 455.29 L113.80 455.57 L114.91 455.85 L116.04 456.14 L117.18 456.43 L118.34 456.73 L119.51 457.02 L120.69 457.33 L121.89 457.63 L123.11 457.94 L124.34 458.25 L125.58 458.57 L126.84 458.89 L128.11 459.21 L129.40 459.54 L130.71 459.87 L132.03 460.21 L133.36 460.54 L134.71 460.89 L136.08 461.23 L137.46 461.58 L138.86 461.93 L140.27 462.29 L141.70 462.65 L143.14 463.01 L144.60 463.38 L146.08 463.75 L147.58 464.13 L149.09 464.51 L150.61 464.89 L152.15 465.27 L153.71 465.66 L155.29 466.06 L156.88 466.45 L158.49 466.85 L160.12 467.26 L161.76 467.66 L163.42 468.07 L165.10 468.49 L166.80 468.91 L168.51 469.33 L170.24 469.75 L171.99 470.18 L173.76 470.62 L175.54 471.05 L177.34 471.49 L179.16 471.94 L181.00 472.38 L182.85 472.84 L184.73 473.29 L186.62 473.75 L188.53 474.21 L190.46 474.68 L192.41 475.15 L194.37 475.62 L196.36 476.10 L198.36 476.58 L200.39 477.06 L202.43 477.55 L204.49 478.04 L206.57 478.54 L208.67 479.04 L210.79 479.54 L212.93 480.05 L215.08 480.56 L217.26 481.08 L219.46 481.60 L221.68 482.12 L223.91 482.64 L226.17 483.17 L228.45 483.71 L230.74 484.25 L233.06 484.79 L235.40 485.33 L237.76 485.88 L240.14 486.44 L242.54 487.00 L244.96 487.56 L247.40 488.12 L249.86 488.69 L252.34 489.27 L254.85 489.84 L257.37 490.42 L259.92 491.01 L262.49 491.60 L265.08 492.19 L267.69 492.79 L270.32 493.39 L272.97 494.00 L275.65 494.61 L278.35 495.22 L281.07 495.84 L283.81 496.46 L286.57 497.09 L289.36 497.72 L292.17 498.36 L295.00 499.00 L297.85 499.64" stroke="#ff0000" stroke-dasharray="3.3 2.4"/>
</g>
<text transform="translate(55.65,524.30) scale(1,1.06)" font-size="16.8" text-anchor="middle">0.000</text>
<text transform="translate(104.09,524.30) scale(1,1.06)" font-size="16.8" text-anchor="middle">0.002</text>
<text transform="translate(152.53,524.30) scale(1,1.06)" font-size="16.8" text-anchor="middle">0.004</text>
<text transform="translate(200.97,524.30) scale(1,1.06)" font-size="16.8" text-anchor="middle">0.006</text>
<text transform="translate(249.41,524.30) scale(1,1.06)" font-size="16.8" text-anchor="middle">0.008</text>
<text transform="translate(297.85,524.30) scale(1,1.06)" font-size="16.8" text-anchor="middle">0.010</text>
<text transform="translate(51.90,308.80) scale(1,1.06)" font-size="16.8" text-anchor="end">3</text>
<text transform="translate(51.90,345.49) scale(1,1.06)" font-size="16.8" text-anchor="end">2</text>
<text transform="translate(51.90,382.18) scale(1,1.06)" font-size="16.8" text-anchor="end">1</text>
<text transform="translate(51.90,418.87) scale(1,1.06)" font-size="16.8" text-anchor="end">0</text>
<text transform="translate(51.90,455.56) scale(1,1.06)" font-size="16.8" text-anchor="end">-1</text>
<text transform="translate(51.90,492.25) scale(1,1.06)" font-size="16.8" text-anchor="end">-2</text>
<text transform="translate(141.20,550.20) scale(1,1.03)" font-size="20"><tspan font-style="italic">n</tspan><tspan font-size="15" dy="2.4" dx="-0.8">B</tspan><tspan dy="-2.4" dx="-0.5"> [fm</tspan><tspan font-size="10" dy="-11.3" dx="0.9">−</tspan><tspan font-size="13.5" dy="2.0" dx="1.3">3</tspan><tspan dy="9.3" dx="1.4">]</tspan></text>
<text transform="translate(34.00,440.30) rotate(-90) scale(1,1)" font-size="19.8"><tspan font-style="italic">E</tspan> [MeV]</text>
<text transform="translate(71.40,492.30) scale(1,0.97)" font-size="14"><tspan font-style="italic">T</tspan> = 0 MeV</text>
<rect x="67.0" y="314.5" width="74.45" height="31.8" fill="#fff" stroke="#000" stroke-width="1"/>
<line x1="70.6" y1="323.3" x2="91.5" y2="323.3" stroke="#000" stroke-width="1.2"/>
<line x1="70.2" y1="337.5" x2="91.5" y2="337.5" stroke="#000" stroke-width="1.2" stroke-dasharray="3.6 2.2"/>
<text transform="translate(97.40,326.60) scale(1,0.96)" font-size="14.3">After</text>
<text transform="translate(97.40,340.70) scale(1,0.96)" font-size="14.3">Before</text>
<rect x="196.45" y="315.8" width="88.95" height="88.0" fill="#fff" stroke="#000" stroke-width="1"/>
<line x1="199.7" y1="323.85" x2="218.8" y2="323.85" stroke="#000000" stroke-width="1.15"/>
<text transform="translate(224.00,327.10) scale(1,0.97)" font-size="13"><tspan font-style="italic">n</tspan><tspan font-size="9.8" dy="2.1">p</tspan><tspan dy="-2.1" dx="-0.6">/</tspan><tspan font-style="italic" dx="-0.5">n</tspan><tspan font-size="9.8" dy="2.1" dx="-0.2">B</tspan><tspan dy="-2.1" dx="-0.3"> =</tspan><tspan dx="-0.4"> 0</tspan></text>
<line x1="199.7" y1="337.94" x2="218.8" y2="337.94" stroke="#ff00cc" stroke-width="1.15"/>
<text transform="translate(224.00,341.15) scale(1,0.97)" font-size="13"><tspan font-style="italic">n</tspan><tspan font-size="9.8" dy="2.1">p</tspan><tspan dy="-2.1" dx="-0.6">/</tspan><tspan font-style="italic" dx="-0.5">n</tspan><tspan font-size="9.8" dy="2.1" dx="-0.2">B</tspan><tspan dy="-2.1" dx="-0.3"> =</tspan><tspan dx="-0.4"> 0.1</tspan></text>
<line x1="199.7" y1="352.03" x2="218.8" y2="352.03" stroke="#0000ff" stroke-width="1.15"/>
<text transform="translate(224.00,355.20) scale(1,0.97)" font-size="13"><tspan font-style="italic">n</tspan><tspan font-size="9.8" dy="2.1">p</tspan><tspan dy="-2.1" dx="-0.6">/</tspan><tspan font-style="italic" dx="-0.5">n</tspan><tspan font-size="9.8" dy="2.1" dx="-0.2">B</tspan><tspan dy="-2.1" dx="-0.3"> =</tspan><tspan dx="-0.4"> 0.2</tspan></text>
<line x1="199.7" y1="366.12" x2="218.8" y2="366.12" stroke="#009900" stroke-width="1.15"/>
<text transform="translate(224.00,369.25) scale(1,0.97)" font-size="13"><tspan font-style="italic">n</tspan><tspan font-size="9.8" dy="2.1">p</tspan><tspan dy="-2.1" dx="-0.6">/</tspan><tspan font-style="italic" dx="-0.5">n</tspan><tspan font-size="9.8" dy="2.1" dx="-0.2">B</tspan><tspan dy="-2.1" dx="-0.3"> =</tspan><tspan dx="-0.4"> 0.3</tspan></text>
<line x1="199.7" y1="380.21" x2="218.8" y2="380.21" stroke="#ffa500" stroke-width="1.15"/>
<text transform="translate(224.00,383.30) scale(1,0.97)" font-size="13"><tspan font-style="italic">n</tspan><tspan font-size="9.8" dy="2.1">p</tspan><tspan dy="-2.1" dx="-0.6">/</tspan><tspan font-style="italic" dx="-0.5">n</tspan><tspan font-size="9.8" dy="2.1" dx="-0.2">B</tspan><tspan dy="-2.1" dx="-0.3"> =</tspan><tspan dx="-0.4"> 0.4</tspan></text>
<line x1="199.7" y1="394.30" x2="218.8" y2="394.30" stroke="#ff0000" stroke-width="1.15"/>
<text transform="translate(224.00,397.35) scale(1,0.97)" font-size="13"><tspan font-style="italic">n</tspan><tspan font-size="9.8" dy="2.1">p</tspan><tspan dy="-2.1" dx="-0.6">/</tspan><tspan font-style="italic" dx="-0.5">n</tspan><tspan font-size="9.8" dy="2.1" dx="-0.2">B</tspan><tspan dy="-2.1" dx="-0.3"> =</tspan><tspan dx="-0.4"> 0.5</tspan></text>
</svg></body></html>
